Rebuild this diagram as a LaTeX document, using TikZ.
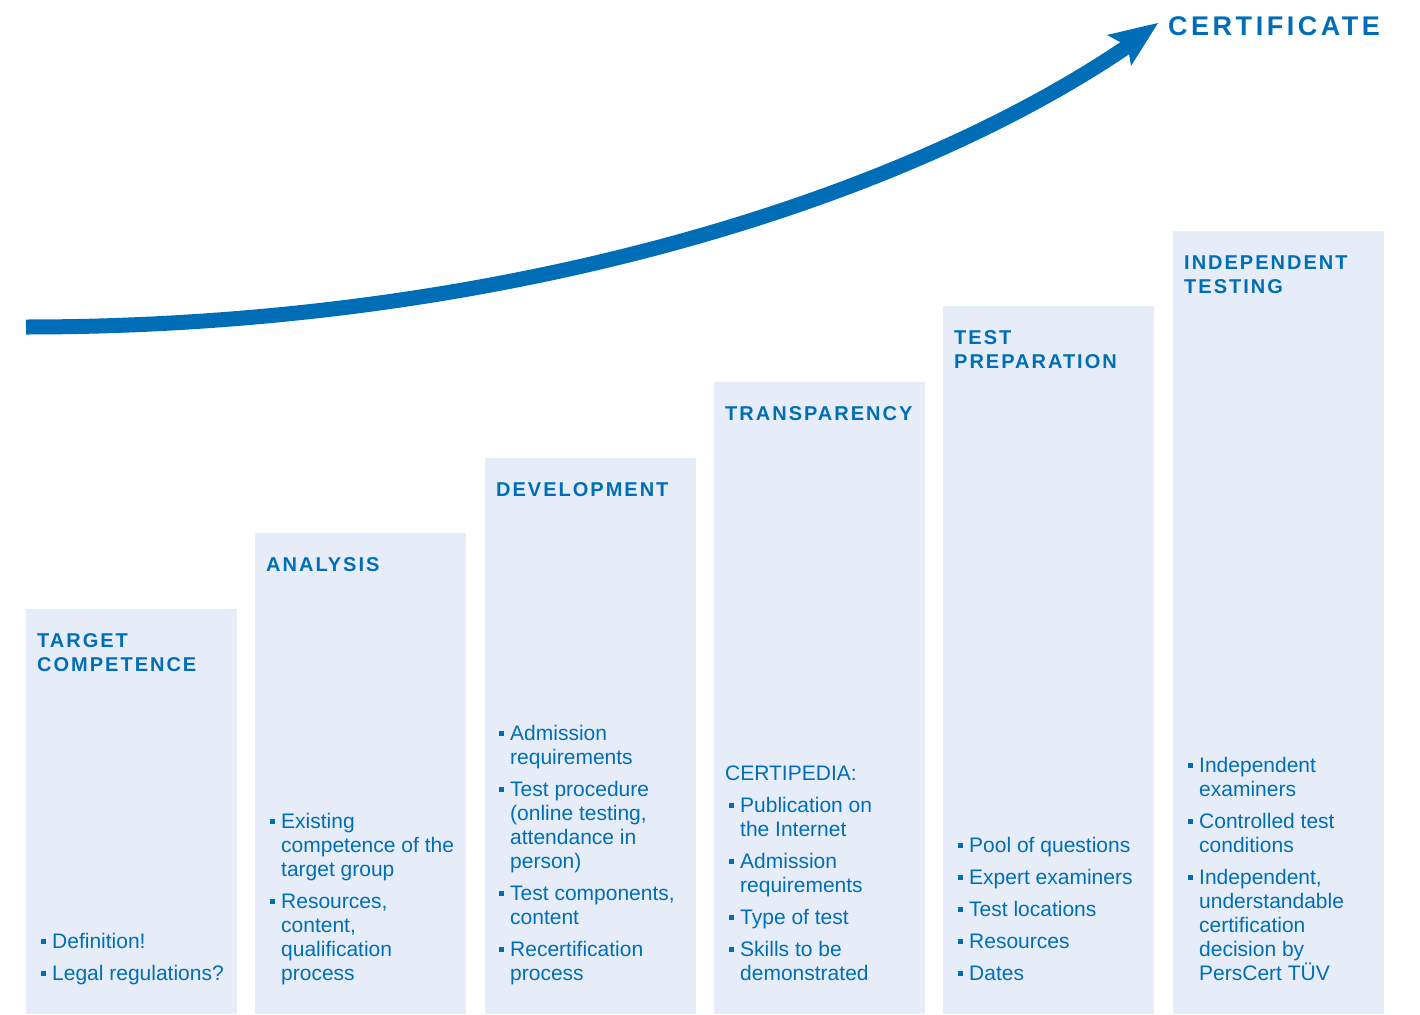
\documentclass[tikz,border=0pt]{standalone}
\usepackage{fontspec}
\setmainfont{Liberation Sans}
\newfontfamily\titlefont[LetterSpace=10]{Liberation Sans}
\newfontfamily\certfont[LetterSpace=13]{Liberation Sans}
\definecolor{tblue}{RGB}{0,110,182}
\definecolor{boxfill}{RGB}{230,237,248}
\newcommand{\bitem}[1]{\makebox[11pt][l]{\rule[4pt]{5pt}{5pt}}\parbox[t]{190pt}{#1}}
\newcommand{\tlines}[1]{\parbox[t]{200pt}{#1}}
\tikzset{
  colbox/.style={fill=boxfill, draw=none, anchor=north west, minimum width=211pt, inner sep=0pt, outer sep=0pt},
  ttl/.style={anchor=base west, inner sep=0pt, text=tblue, font=\titlefont\bfseries\fontsize{20pt}{24pt}\selectfont},
  itm/.style={anchor=base west, inner sep=0pt, text=tblue, font=\fontsize{21pt}{24pt}\selectfont},
}
\begin{document}
\begin{tikzpicture}[x=1pt,y=-1pt]
\useasboundingbox (0,0) rectangle (1420,1014);
% columns
\node[colbox, minimum height=405pt] (b1) at (26,609) {};
\node[colbox, minimum height=481pt] (b2) at (255,533) {};
\node[colbox, minimum height=556pt] (b3) at (485,458) {};
\node[colbox, minimum height=632pt] (b4) at (714,382) {};
\node[colbox, minimum height=708pt] (b5) at (943,306) {};
\node[colbox, minimum height=783pt] (b6) at (1173,231) {};
% arrow
\coordinate (as) at (26,327);
\coordinate (ae) at (1125,48);
\draw[tblue, line width=15pt] (as) .. controls (500,327) and (900,200) .. (ae);
\fill[tblue] (1158,23) -- (1107,35) -- (1120,42) -- (1129,54) -- (1131,66) -- cycle;
\node[anchor=base west, inner sep=0pt, text=tblue, font=\certfont\bfseries\fontsize{27pt}{30pt}\selectfont] (cert) at (1168,36) {CERTIFICATE};
% titles
\node[ttl] (t1) at (37,647) {\tlines{TARGET\\COMPETENCE}};
\node[ttl] (t2) at (266,571) {\tlines{ANALYSIS}};
\node[ttl] (t3) at (496,496) {\tlines{DEVELOPMENT}};
\node[ttl] (t4) at (725,420) {\tlines{TRANSPARENCY}};
\node[ttl] (t5) at (954,344) {\tlines{TEST\\PREPARATION}};
\node[ttl] (t6) at (1184,269) {\tlines{INDEPENDENT\\TESTING}};
% column 1
\node[itm] (i11) at (41,948) {\bitem{Definition!}};
\node[itm] (i12) at (41,980) {\bitem{Legal regulations?}};
% column 2
\node[itm] (i21) at (270,828) {\bitem{Existing\\competence of the\\target group}};
\node[itm] (i22) at (270,908) {\bitem{Resources,\\content,\\qualification\\process}};
% column 3
\node[itm] (i31) at (499,740) {\bitem{Admission\\requirements}};
\node[itm] (i32) at (499,796) {\bitem{Test procedure\\(online testing,\\attendance in\\person)}};
\node[itm] (i33) at (499,900) {\bitem{Test components,\\content}};
\node[itm] (i34) at (499,956) {\bitem{Recertification\\process}};
% column 4
\node[itm] (c4) at (725,780) {CERTIPEDIA:};
\node[itm] (i41) at (729,812) {\bitem{Publication on\\the Internet}};
\node[itm] (i42) at (729,868) {\bitem{Admission\\requirements}};
\node[itm] (i43) at (729,924) {\bitem{Type of test}};
\node[itm] (i44) at (729,956) {\bitem{Skills to be\\demonstrated}};
% column 5
\node[itm] (i51) at (958,852) {\bitem{Pool of questions}};
\node[itm] (i52) at (958,884) {\bitem{Expert examiners}};
\node[itm] (i53) at (958,916) {\bitem{Test locations}};
\node[itm] (i54) at (958,948) {\bitem{Resources}};
\node[itm] (i55) at (958,980) {\bitem{Dates}};
% column 6
\node[itm] (i61) at (1188,772) {\bitem{Independent\\examiners}};
\node[itm] (i62) at (1188,828) {\bitem{Controlled test\\conditions}};
\node[itm] (i63) at (1188,884) {\bitem{Independent,\\understandable\\certification\\decision by\\PersCert TÜV}};
\end{tikzpicture}
\end{document}
